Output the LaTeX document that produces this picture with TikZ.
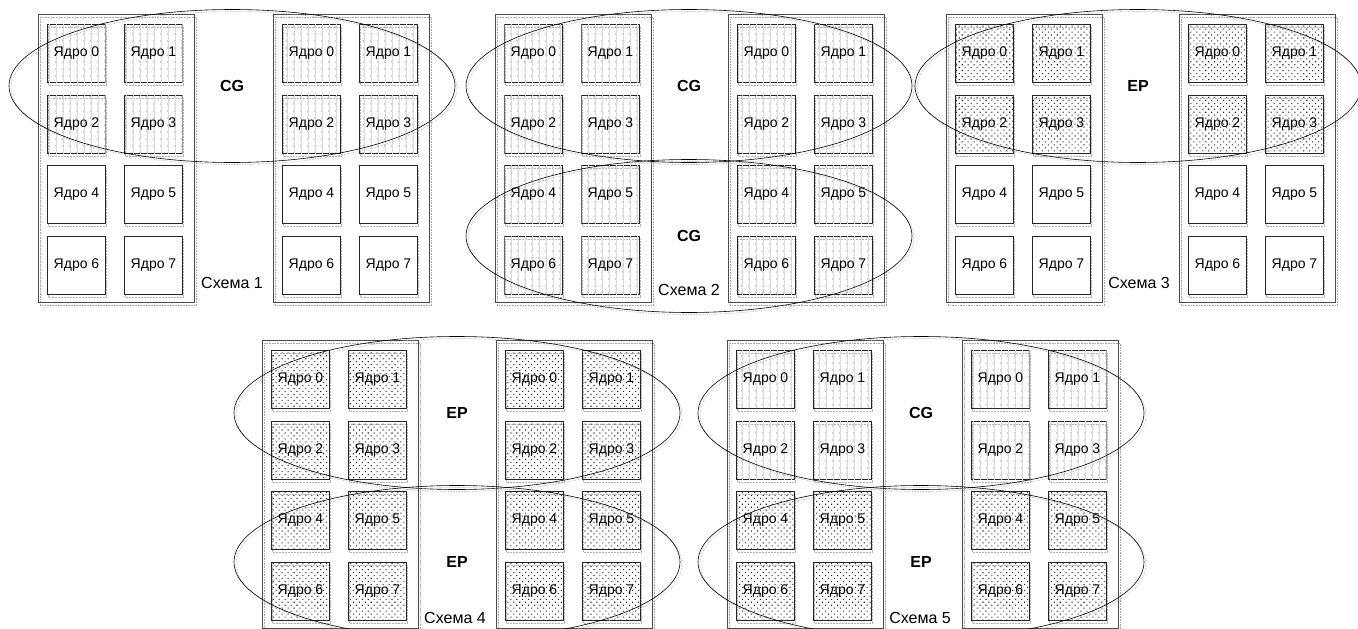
\documentclass[tikz,border=0pt]{standalone}
\usepackage{fontspec}
\setmainfont{Liberation Sans}
\usetikzlibrary{positioning, shapes.geometric, patterns.meta}

\begin{document}
\begin{tikzpicture}[x=1pt, y=-1pt,
    board/.style={draw=black!70, line width=0.8pt, minimum width=156pt, minimum height=288pt,
      inner sep=0pt, anchor=north west,
      preaction={draw=black!35, densely dotted, line width=0.6pt, transform canvas={shift={(2pt,-3pt)}}}},
    core/.style={draw=black!85, line width=0.9pt, minimum size=58pt, inner sep=0pt,
      font=\fontsize{14}{16}\selectfont,
      preaction={draw=black!30, densely dotted, line width=0.5pt, transform canvas={shift={(1pt,-3pt)}}}},
    plain/.style={fill=white},
    cg/.style={pattern={Dots[distance=7pt, radius=0.7pt]}, pattern color=black!80,
      postaction={pattern={Lines[angle=90, distance=7pt, line width=0.2pt]}, pattern color=black!15}},
    ep/.style={pattern={Dots[angle=45, distance=4.2pt, radius=0.75pt]}, pattern color=black!85},
    group/.style={ellipse, draw=black, line width=0.6pt, minimum width=446pt, minimum height=153pt,
      inner sep=0pt, font=\fontsize{16}{18}\selectfont\bfseries,
      preaction={draw=black!35, densely dotted, transform canvas={shift={(2pt,-2pt)}}}},
    schema/.style={font=\fontsize{16}{18}\selectfont},
]
  \fill[white] (0,0) rectangle (1358,629);
  \useasboundingbox (0,0) rectangle (1358,629);

  % Boards with eight cores each
  \foreach \s/\lx/\rx/\ty/\topfill/\botfill in {1/38/273/14/cg/plain, 2/495/728/14/cg/cg,
      3/946/1179/14/ep/plain, 4/262/496/340/ep/ep, 5/727/962/340/cg/ep}{
    \foreach \b/\bx in {L/\lx, R/\rx}{
      \node[board] (s\s\b) at (\bx,\ty) {};
      \foreach \c/\dx/\dy/\f in {0/38.5/39/\topfill, 1/115.5/39/\topfill, 2/38.5/110/\topfill,
          3/115.5/110/\topfill, 4/38.5/180/\botfill, 5/115.5/180/\botfill,
          6/38.5/251/\botfill, 7/115.5/251/\botfill}
        \node[core, \f] (s\s\b\c) at ({\bx+\dx},{\ty+\dy}) {Ядро \c};
    }
  }

  % Groups (CG / EP)
  \foreach \n/\ex/\ey/\txt in {e1/232/86/CG, e2a/689/86/CG, e2b/689/236/CG, e3/1138/86/EP,
      e4a/457/413/EP, e4b/457/562/EP, e5a/921/413/CG, e5b/921/562/EP}
    \node[group] (\n) at (\ex,\ey) {\txt};

  % Scheme captions
  \foreach \s/\cx/\cy in {1/232/283, 2/689/290, 3/1139/283, 4/455/618, 5/920/618}
    \node[schema] (cap\s) at (\cx,\cy) {Схема \s};
\end{tikzpicture}
\end{document}
